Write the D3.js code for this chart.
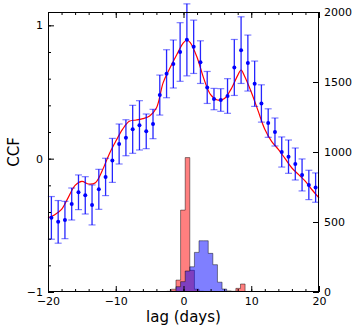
<!DOCTYPE html>
<html>
<head>
<meta charset="utf-8">
<script src="https://cdn.jsdelivr.net/npm/d3@7"></script>
<style>
  body { margin: 0; background: #fff; }
  svg { display: block; font-family: "DejaVu Sans", sans-serif; }
</style>
</head>
<body>
<svg id="chart" width="360" height="335"></svg>
<script>
// CCF points (lag in days, value, half error bar)
var pointLags = [-19.5,-18.5,-17.5,-16.5,-15.5,-14.5,-13.5,-12.5,-11.5,-10.5,-9.5,-8.5,-7.5,-6.5,-5.5,-4.5,-3.5,-2.5,-1.5,-0.5,
                 0.5,1.5,2.5,3.5,4.5,5.5,6.5,7.5,8.5,9.5,10.5,11.5,12.5,13.5,14.5,15.5,16.5,17.5,18.5,19.5];
var pointCcf = [-0.444,-0.474,-0.46,-0.34,-0.252,-0.275,-0.347,-0.23,-0.137,-0.013,0.11,0.157,0.22,0.25,0.205,0.26,0.477,0.637,0.71,0.8,
                0.891,0.839,0.724,0.534,0.447,0.44,0.47,0.684,0.814,0.717,0.562,0.414,0.267,0.2,0.05,0.015,-0.04,-0.122,-0.197,-0.217];
var pointErr = [0.16,0.16,0.14,0.12,0.13,0.14,0.15,0.15,0.14,0.165,0.15,0.135,0.18,0.185,0.13,0.11,0.15,0.18,0.18,0.22,
                0.27,0.2,0.16,0.12,0.08,0.085,0.13,0.21,0.25,0.21,0.17,0.14,0.107,0.105,0.113,0.125,0.12,0.12,0.11,0.11];

// smooth model curve
var modelLags = [-20,-19,-18,-17,-16,-15,-14,-13,-12,-11,-10,-9,-8,-7,-6,-5,-4,-3,-2,-1,0,0.5,1,2,3,4,5,6,7,8,8.5,9,10,11,12,13,14,15,16,17,18,19,20];
var modelCcf = [-0.444,-0.42,-0.38,-0.29,-0.2,-0.17,-0.19,-0.18,-0.09,0.03,0.13,0.22,0.28,0.29,0.3,0.32,0.38,0.57,0.68,0.78,0.87,0.89,0.87,0.76,0.6,0.48,0.44,0.45,0.52,0.625,0.665,0.62,0.5,0.36,0.22,0.13,0.07,0.0,-0.07,-0.12,-0.17,-0.235,-0.294];

// lag distributions (bin edges in days, counts)
var binEdges = [-2.47,-1.79,-1.11,-0.43,0.25,0.93,1.61,2.29,2.97,3.65,4.33,5.01,5.69,6.37,7.05,7.73,8.41,9.09,9.77];
var redCounts = [5,20,85,585,960,155,20,5,0,0,0,0,0,0,5,26,57,3];
var blueCounts = [0,5,38,74,150,180,283,366,366,276,195,70,21,8,3,0,0,0];

var xTicks = [-20,-10,0,10,20];
var yTicks = [-1,0,1];
var y2Ticks = [0,500,1000,1500,2000];

var mLeft = 48, mRight = 319, mTop = 12, mBottom = 292;
var svg = d3.select("#chart");

var x = d3.scaleLinear().domain([-20, 20]).range([mLeft, mRight]);
var y = d3.scaleLinear().domain([-1, 1.1]).range([mBottom, mTop]);
var y2 = d3.scaleLinear().domain([0, 2000]).range([mBottom, mTop]);

svg.append("clipPath").attr("id", "clip")
  .append("rect").attr("x", mLeft).attr("y", mTop).attr("width", mRight - mLeft).attr("height", mBottom - mTop);

// histograms (red under, blue on top)
function histData(counts) {
  var d = counts.map(function(c, i) { return {lag: binEdges[i], n: c}; });
  d.push({lag: binEdges[binEdges.length - 1], n: counts[counts.length - 1]});
  return d;
}
var area = d3.area()
  .curve(d3.curveStepAfter)
  .x(function(d) { return x(d.lag); })
  .y0(y2(0))
  .y1(function(d) { return y2(d.n); });

var hist = svg.append("g").attr("clip-path", "url(#clip)");
[[redCounts, "#ff0000"], [blueCounts, "#0000ff"]].forEach(function(h) {
  hist.append("path")
    .attr("d", area(histData(h[0])))
    .attr("fill", h[1])
    .attr("fill-opacity", 0.5)
    .attr("stroke", "#000")
    .attr("stroke-opacity", 0.45)
    .attr("stroke-width", 1);
});

// model line
var line = d3.line()
  .curve(d3.curveCatmullRom)
  .x(function(d, i) { return x(modelLags[i]); })
  .y(function(d) { return y(d); });

svg.append("path")
  .attr("d", line(modelCcf))
  .attr("fill", "none")
  .attr("stroke", "#ff0000")
  .attr("stroke-width", 1.2);

// error bars + points
var pts = svg.append("g");
pointLags.forEach(function(l, i) {
  var cx = x(l), v = pointCcf[i], e = pointErr[i];
  pts.append("line")
    .attr("x1", cx).attr("x2", cx)
    .attr("y1", y(v - e)).attr("y2", y(v + e))
    .attr("stroke", "#0000ff").attr("stroke-opacity", 0.85).attr("stroke-width", 1.3);
  [v - e, v + e].forEach(function(c) {
    pts.append("line")
      .attr("x1", cx - 3.5).attr("x2", cx + 3.5)
      .attr("y1", y(c)).attr("y2", y(c))
      .attr("stroke", "#0000ff").attr("stroke-opacity", 0.5).attr("stroke-width", 1.2);
  });
  pts.append("circle")
    .attr("cx", cx).attr("cy", y(v)).attr("r", 2)
    .attr("fill", "#0000ff");
});

// axes, ticks pointing inward
function styleAxis(g) {
  g.select(".domain").remove();
  g.selectAll("line").attr("stroke", "#000");
  g.selectAll("text").attr("font-size", 11).attr("fill", "#000").attr("font-family", "DejaVu Sans");
}
var xMinor = d3.range(-20, 21, 2);
var yMinor = d3.range(-1, 1.01, 0.2);

svg.append("g").attr("transform", "translate(0," + mBottom + ")")
  .call(d3.axisBottom(x).tickValues(xTicks).tickSize(-6).tickPadding(5).tickFormat(d3.format("d")))
  .call(styleAxis);
svg.append("g").attr("transform", "translate(0," + mBottom + ")")
  .call(d3.axisBottom(x).tickValues(xMinor).tickSize(-3).tickFormat(""))
  .call(styleAxis);
svg.append("g").attr("transform", "translate(0," + mTop + ")")
  .call(d3.axisTop(x).tickValues(xTicks).tickSize(-6).tickFormat(""))
  .call(styleAxis);
svg.append("g").attr("transform", "translate(0," + mTop + ")")
  .call(d3.axisTop(x).tickValues(xMinor).tickSize(-3).tickFormat(""))
  .call(styleAxis);

svg.append("g").attr("transform", "translate(" + mLeft + ",0)")
  .call(d3.axisLeft(y).tickValues(yTicks).tickSize(-6).tickPadding(5).tickFormat(d3.format("d")))
  .call(styleAxis);
svg.append("g").attr("transform", "translate(" + mLeft + ",0)")
  .call(d3.axisLeft(y).tickValues(yMinor).tickSize(-3).tickFormat(""))
  .call(styleAxis);

svg.append("g").attr("transform", "translate(" + mRight + ",0)")
  .call(d3.axisRight(y2).tickValues(y2Ticks).tickSize(-6).tickPadding(5).tickFormat(d3.format("d")))
  .call(styleAxis);

// frame
svg.append("rect")
  .attr("x", mLeft + 0.5).attr("y", mTop + 0.5)
  .attr("width", mRight - mLeft - 1).attr("height", mBottom - mTop - 1)
  .attr("fill", "none").attr("stroke", "#000").attr("stroke-width", 1);

// axis titles
svg.append("text")
  .attr("transform", "translate(19,152) rotate(-90)")
  .attr("text-anchor", "middle")
  .attr("font-size", 15)
  .text("CCF");
svg.append("text")
  .attr("x", (mLeft + mRight) / 2).attr("y", 322)
  .attr("text-anchor", "middle")
  .attr("font-size", 15)
  .text("lag (days)");
</script>
</body>
</html>
